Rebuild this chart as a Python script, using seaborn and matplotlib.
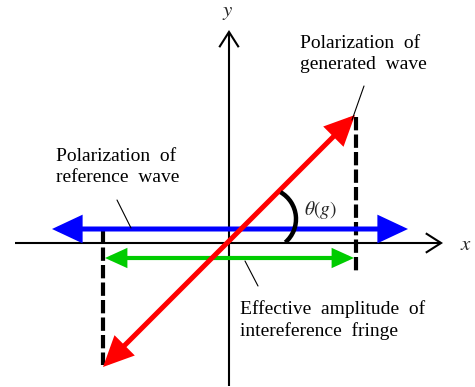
import pandas as pd
import seaborn as sns
import matplotlib.pyplot as plt
from matplotlib.patches import FancyArrowPatch, Arc

# diagram coordinates, in pixel units of the 475x387 canvas (y grows downward)
x_axis = [(15, 243), (443, 243)]
y_axis = [(229, 386), (229, 30)]
reference_wave = [(52, 229), (408, 229)]
generated_wave = [(103, 367), (355, 115)]
fringe_amplitude = [(105, 258), (354, 258)]
projection_x = [103, 356]
projection_y = [(230, 365), (117, 272)]
angle_arc = (265, 219, 62, -60, 49)  # cx, cy, diameter, theta1, theta2

leader_seg = [0, 0, 1, 1, 2, 2]
leader_x = [364, 352, 117, 131, 245, 258]
leader_y = [86, 120, 200, 228, 261, 286]

labels = ["Polarization  of\ngenerated  wave",
          "Polarization  of\nreference  wave",
          "Effective  amplitude  of\nintereference  fringe"]
label_pos = [(300, 54), (56, 167), (240, 320)]

sns.set_theme(style="white")
plt.rcParams['font.family'] = ['Liberation Serif', 'DejaVu Serif']
plt.rcParams['mathtext.fontset'] = 'stix'

fig = plt.figure(figsize=(4.75, 3.87), dpi=100)
ax = fig.add_axes([0, 0, 1, 1])
ax.set_xlim(0, 475)
ax.set_ylim(387, 0)
ax.axis('off')


def arrow(ax, pts, style, color, lw, z):
    ax.add_patch(FancyArrowPatch(pts[0], pts[1], arrowstyle=style, color=color,
                                 lw=lw, shrinkA=0, shrinkB=0, mutation_scale=1,
                                 joinstyle='miter', capstyle='butt', zorder=z))


# axes with open heads
arrow(ax, x_axis, '->,head_length=11,head_width=7', 'black', 1.5, 2)
arrow(ax, y_axis, '->,head_length=11,head_width=7', 'black', 1.5, 2)

# projection dashes
dash_df = pd.DataFrame({
    'x': [projection_x[0]] * 2 + [projection_x[1]] * 2,
    'y': list(projection_y[0]) + list(projection_y[1]),
    'seg': [0, 0, 1, 1],
})
sns.lineplot(data=dash_df, x='x', y='y', units='seg', estimator=None, sort=False,
             color='black', lw=3, ax=ax, zorder=3)
for line in ax.lines:
    line.set_dashes((3.2, 1.0))
    line.set_dash_capstyle('butt')

# polarization arrows
arrow(ax, reference_wave, '<|-|>,head_length=16,head_width=7.5', '#0000ff', 3.6, 4)
arrow(ax, fringe_amplitude, '<|-|>,head_length=11,head_width=5', '#00cc00', 3.0, 4)
arrow(ax, generated_wave, '<|-|>,head_length=16,head_width=7.5', '#ff0000', 3.6, 5)

cx, cy, d, t1, t2 = angle_arc
ax.add_patch(Arc((cx, cy), d, d, theta1=t1, theta2=t2, color='black', lw=3.2, zorder=6))

# leader lines
leader_df = pd.DataFrame({'x': leader_x, 'y': leader_y, 'seg': leader_seg})
sns.lineplot(data=leader_df, x='x', y='y', units='seg', estimator=None, sort=False,
             color='black', lw=0.8, ax=ax, zorder=7)

for txt, (tx, ty) in zip(labels, label_pos):
    ax.text(tx, ty, txt, ha='left', va='center', fontsize=14, linespacing=1.3,
            color='black')

ax.text(321, 210, r'$\theta(g)$', ha='center', va='center', fontsize=14)
ax.text(228, 12, r'$y$', ha='center', va='center', fontsize=15)
ax.text(466, 245, r'$x$', ha='center', va='center', fontsize=15)

ax.set_xlabel('')
ax.set_ylabel('')
fig.savefig('out.png', dpi=100)
